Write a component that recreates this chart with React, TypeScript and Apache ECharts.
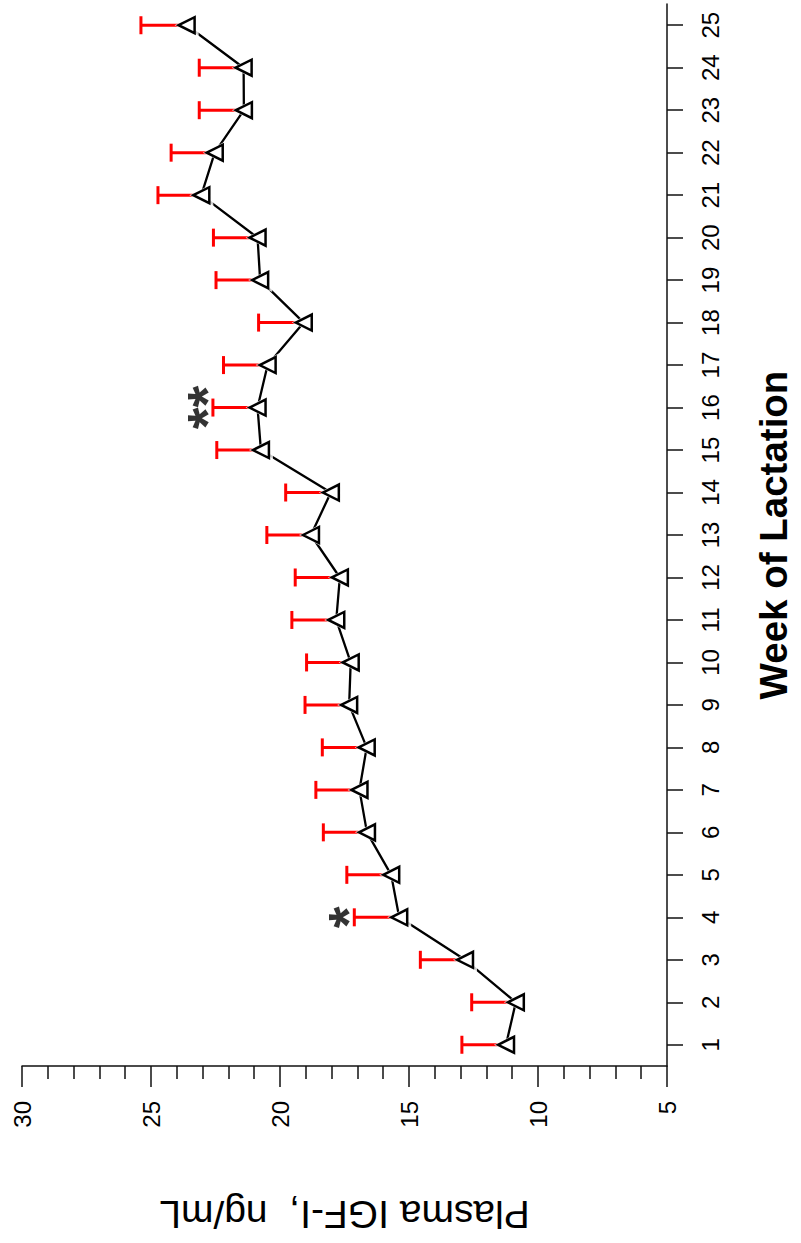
import React, { useEffect, useRef } from "react";
import * as echarts from "echarts";

const weeks = ["1","2","3","4","5","6","7","8","9","10","11","12","13","14","15","16","17","18","19","20","21","22","23","24","25"];
const igfMean = [11.24, 10.86, 12.83, 15.38, 15.69, 16.63, 16.92, 16.64, 17.32, 17.26, 17.82, 17.68, 18.8, 18.03, 20.74, 20.87, 20.48, 19.08, 20.77, 20.87, 23.05, 22.53, 21.4, 21.41, 23.62];
const igfSem = [1.71, 1.71, 1.73, 1.74, 1.72, 1.69, 1.69, 1.72, 1.71, 1.71, 1.72, 1.73, 1.71, 1.75, 1.71, 1.73, 1.71, 1.75, 1.71, 1.71, 1.68, 1.69, 1.73, 1.72, 1.77];
const sigWeeks = ["4", "16"];
const sigMarks = ["*", "**"];
const valueTicks = { min: 5, max: 30, interval: 5 };
const xTitle = "Plasma IGF-I,  ng/mL";
const yTitle = "Week of Lactation";

const FONT = "'Liberation Sans', Arial, sans-serif";

export default function App() {
  const ref = useRef<HTMLDivElement>(null);
  useEffect(() => {
    if (!ref.current) return;
    document.documentElement.style.overflow = "hidden";
    document.body.style.overflow = "hidden";
    document.body.style.margin = "0";
    const chart = echarts.init(ref.current, undefined, { renderer: "svg", width: 801, height: 1243 });
    const pts = igfMean.map((m, i) => [m, i]);
    const errData = igfMean.map((m, i) => [m, i, igfSem[i]]);
    const sigData = sigWeeks.map((w, k) => {
      const i = weeks.indexOf(w);
      return { value: [igfMean[i] + igfSem[i] + 0.25, i], mark: sigMarks[k] };
    });
    const axisColor = "#111";
    chart.setOption({
      animation: false,
      backgroundColor: "#fff",
      grid: { left: 22, right: 121, top: 4, bottom: 177, containLabel: false },
      xAxis: {
        type: "value",
        min: valueTicks.min,
        max: valueTicks.max,
        interval: valueTicks.interval,
        inverse: true,
        position: "bottom",
        axisLine: { show: true, lineStyle: { color: axisColor, width: 1.5 } },
        axisTick: { show: true, length: 21, lineStyle: { color: axisColor, width: 1.5 } },
        minorTick: { show: true, splitNumber: 5, length: 13, lineStyle: { color: axisColor, width: 1.5 } },
        splitLine: { show: false },
        axisLabel: { rotate: 90, margin: 35, fontSize: 24, color: "#000", fontFamily: FONT },
        name: xTitle,
        nameLocation: "middle",
        nameRotate: 180,
        nameGap: 129,
        nameTextStyle: { fontSize: 39, color: "#000", fontFamily: FONT },
      },
      yAxis: {
        type: "category",
        data: weeks,
        position: "right",
        boundaryGap: true,
        axisLine: { show: true, lineStyle: { color: axisColor, width: 1.5 } },
        axisTick: { show: true, alignWithLabel: true, length: 16, lineStyle: { color: axisColor, width: 1.5 } },
        axisLabel: { rotate: 90, margin: 31, fontSize: 24, color: "#000", fontFamily: FONT },
        splitLine: { show: false },
        name: yTitle,
        nameLocation: "middle",
        nameRotate: 90,
        nameGap: 87,
        nameTextStyle: { fontSize: 38.5, fontWeight: "bold", color: "#000", fontFamily: FONT },
      },
      series: [
        {
          type: "custom",
          z: 1,
          encode: { x: 0, y: 1 },
          data: errData,
          renderItem: (params: any, api: any) => {
            const m = api.value(0);
            const y = api.value(1);
            const u = m + api.value(2);
            const p0 = api.coord([m, y]);
            const p1 = api.coord([u, y]);
            const half = 9;
            const st = { stroke: "#ff0000", lineWidth: 3 };
            return {
              type: "group",
              children: [
                { type: "line", shape: { x1: p0[0], y1: p0[1], x2: p1[0], y2: p1[1] }, style: st },
                { type: "line", shape: { x1: p1[0], y1: p1[1] - half, x2: p1[0], y2: p1[1] + half }, style: st },
              ],
            };
          },
        },
        {
          type: "line",
          z: 2,
          data: pts,
          symbol: "none",
          lineStyle: { color: "#000", width: 2.3 },
        },
        {
          type: "scatter",
          z: 3,
          data: pts,
          symbol: "triangle",
          symbolRotate: 90,
          symbolSize: 24,
          itemStyle: { color: "#fff", borderWidth: 0 },
        },
        {
          type: "scatter",
          z: 4,
          data: pts,
          symbol: "triangle",
          symbolRotate: 90,
          symbolSize: 16,
          itemStyle: { color: "#fff", borderColor: "#000", borderWidth: 2.5, opacity: 1 },
        },
        {
          type: "scatter",
          z: 5,
          data: sigData,
          symbolSize: 1,
          itemStyle: { color: "rgba(0,0,0,0)" },
          label: {
            show: true,
            position: "inside",
            rotate: 90,
            formatter: (p: any) => p.data.mark,
            fontSize: 56,
            fontWeight: "bold",
            color: "#000",
            fontFamily: FONT,
          },
        },
      ],
    });
    return () => chart.dispose();
  }, []);
  return <div ref={ref} style={{ position: "fixed", left: 0, top: 0, width: 801, height: 1243 }} />;
}
